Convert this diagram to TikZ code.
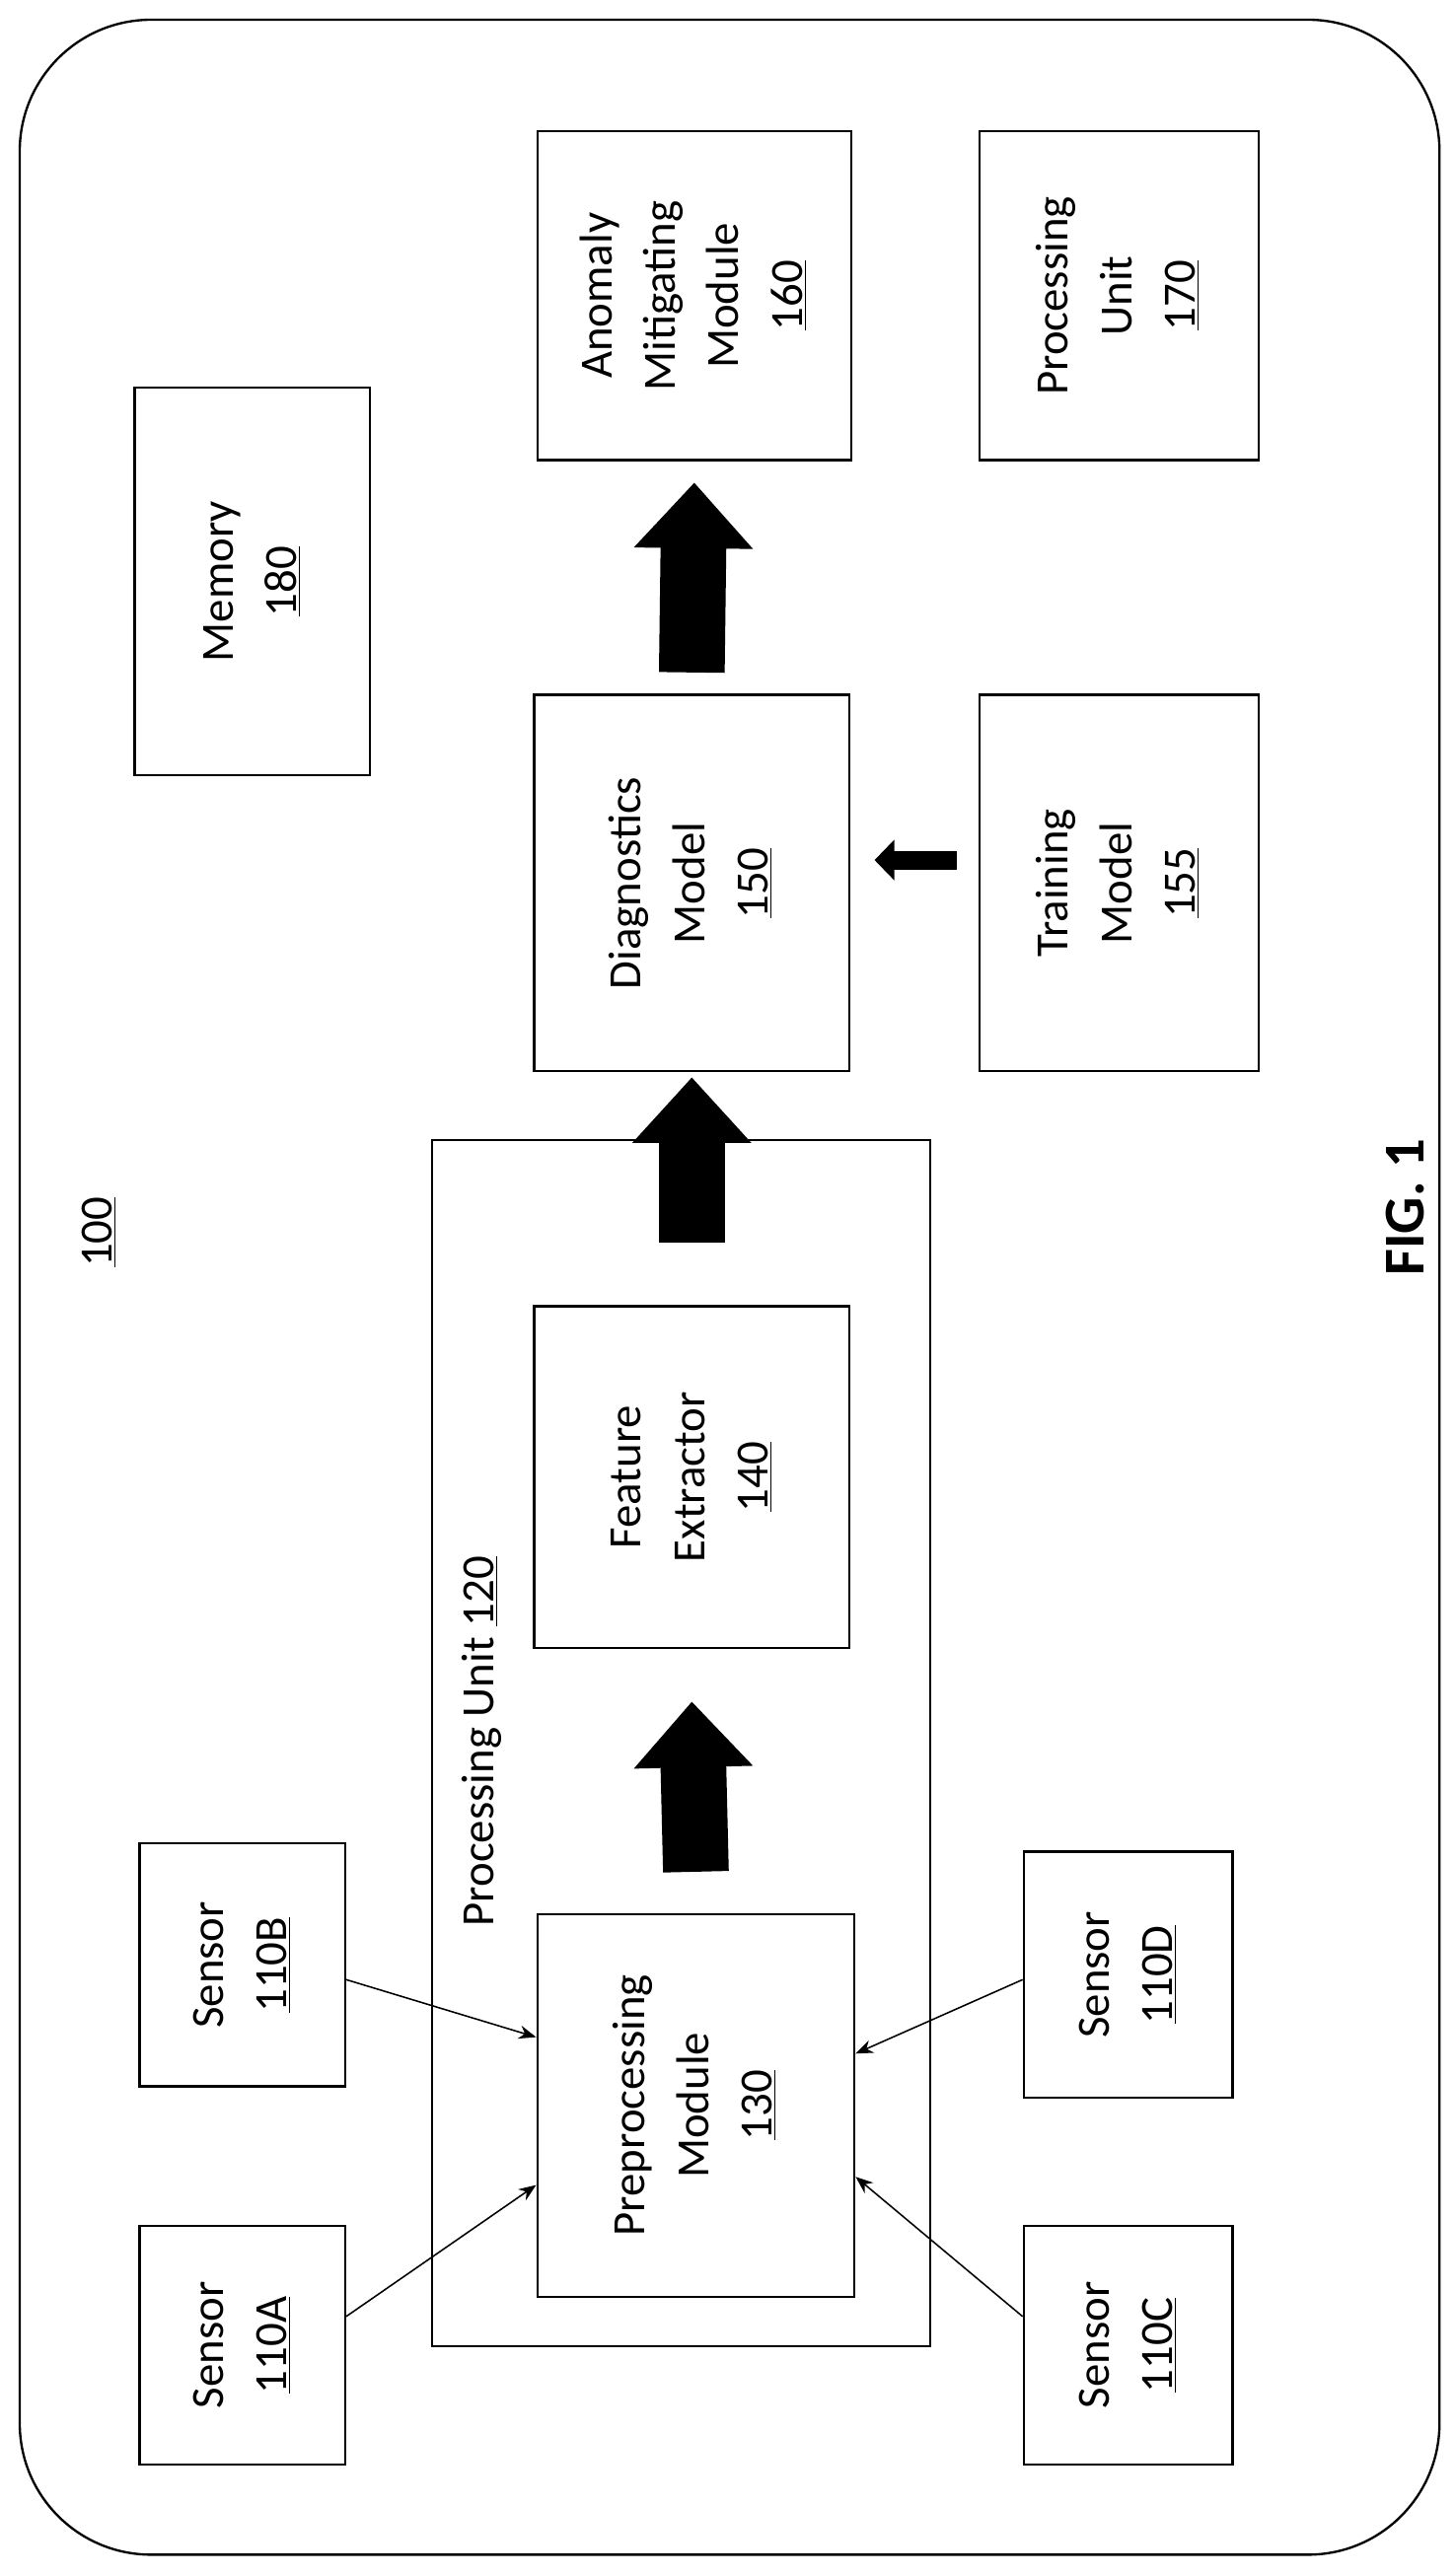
\documentclass[tikz,border=0pt]{standalone}
\usepackage{fontspec}
\setmainfont{Carlito}
\usetikzlibrary{arrows.meta}

\newcommand{\vlbl}[1]{\rotatebox{90}{\begin{tabular}{@{}c@{}}#1\end{tabular}}}

\tikzset{
  box/.style={draw,line width=1.2pt,inner sep=0pt},
  bigarr/.style={line width=12mm,-{Triangle[width=21mm,length=12mm]}},
  midarr/.style={line width=3.4mm,-{Triangle[width=7.2mm,length=3.6mm]}},
  thinarr/.style={line width=0.8pt,-{Stealth[length=9pt,width=7pt]}}
}

\begin{document}
\begin{tikzpicture}[x=0.3mm,y=-0.3mm,font=\fontsize{24}{33}\selectfont]

\useasboundingbox (0,0) rectangle (886,1568) ;

\draw[line width=1.2pt,rounded corners=24mm] (12,12) rectangle (876,1555) ;

\node[rotate=90] (lbl100) at (60,750) {\underline{100}} ;
\node[rotate=90,font=\fontsize{30}{36}\selectfont\bfseries] (fig) at (855,735) {FIG. 1} ;

% top row
\node[box,minimum width=143*0.3mm,minimum height=236*0.3mm] (mem) at (153.5,354) {\vlbl{Memory\\\underline{180}}} ;
\node[box,minimum width=191*0.3mm,minimum height=200*0.3mm] (anom) at (422.5,180) {\vlbl{Anomaly\\Mitigating\\Module\\\underline{160}}} ;
\node[box,minimum width=170*0.3mm,minimum height=200*0.3mm] (pu170) at (681,180) {\vlbl{Processing\\Unit\\\underline{170}}} ;

% middle row
\node[box,minimum width=192*0.3mm,minimum height=229*0.3mm] (diag) at (421,537.5) {\vlbl{Diagnostics\\Model\\\underline{150}}} ;
\node[box,minimum width=170*0.3mm,minimum height=229*0.3mm] (train) at (681,537.5) {\vlbl{Training\\Model\\\underline{155}}} ;

% processing unit 120
\node[box,minimum width=303*0.3mm,minimum height=734*0.3mm] (pu120) at (414.5,1061) {} ;
\node[rotate=90] (pu120lbl) at (293,1060) {Processing Unit \underline{120}} ;
\node[box,minimum width=192*0.3mm,minimum height=208*0.3mm] (feat) at (421,899) {\vlbl{Feature\\Extractor\\\underline{140}}} ;
\node[box,minimum width=193*0.3mm,minimum height=233*0.3mm] (pre) at (423.5,1281.5) {\vlbl{Preprocessing\\Module\\\underline{130}}} ;

% sensors
\node[box,minimum width=125*0.3mm,minimum height=148*0.3mm] (sB) at (147.5,1196) {\vlbl{Sensor\\\underline{110B}}} ;
\node[box,minimum width=125*0.3mm,minimum height=145*0.3mm] (sA) at (147.5,1427.5) {\vlbl{Sensor\\\underline{110A}}} ;
\node[box,minimum width=127*0.3mm,minimum height=150*0.3mm] (sD) at (686.5,1202) {\vlbl{Sensor\\\underline{110D}}} ;
\node[box,minimum width=127*0.3mm,minimum height=145*0.3mm] (sC) at (686.5,1427.5) {\vlbl{Sensor\\\underline{110C}}} ;

% block arrows
\draw[bigarr] ([yshift=25*0.3mm]pre.north) -- ([yshift=-32*0.3mm]feat.south) ;
\draw[bigarr] ([yshift=38*0.3mm]feat.north) -- ([yshift=-3*0.3mm]diag.south) ;
\draw[bigarr] ([yshift=13*0.3mm]diag.north) -- ([yshift=-13*0.3mm]anom.south) ;
\draw[midarr] ([xshift=-13*0.3mm,yshift=14*0.3mm]train.west) -- ([xshift=14.5*0.3mm,yshift=14*0.3mm]diag.east) ;

% sensor arrows
\draw[thinarr] ([yshift=-9*0.3mm]sB.east) -- ([yshift=41.5*0.3mm]pre.west) ;
\draw[thinarr] ([yshift=17.5*0.3mm]sA.east) -- ([yshift=-48.5*0.3mm]pre.west) ;
\draw[thinarr] ([yshift=-3*0.3mm]sD.west) -- ([yshift=31.5*0.3mm]pre.east) ;
\draw[thinarr] ([yshift=17.5*0.3mm]sC.west) -- ([yshift=-43.5*0.3mm]pre.east) ;

\end{tikzpicture}
\end{document}
